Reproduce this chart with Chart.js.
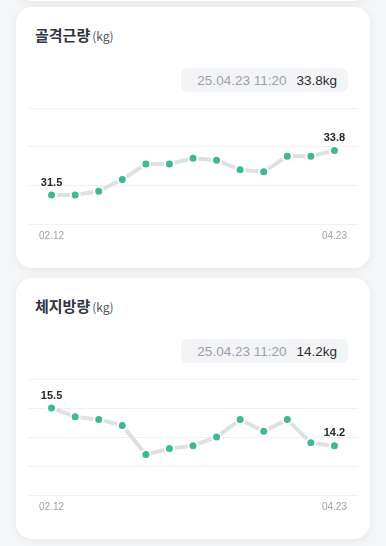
<!DOCTYPE html>
<html>
<head>
<meta charset="utf-8">
<script src="https://cdn.jsdelivr.net/npm/chart.js@4.4.1/dist/chart.umd.min.js"></script>
<style>
    html, body {
        margin: 0;
        padding: 0;
        background: #f5f6f8;
        width: 386px;
        height: 546px;
        overflow: hidden;
        position: relative;
    }
    .card {
        position: absolute;
        left: 16px;
        width: 354px;
        height: 261px;
        background: #ffffff;
        border-radius: 16px;
        box-shadow: 0 2px 8px rgba(30, 40, 60, 0.07);
    }
    .title {
        position: absolute;
        left: 19px;
        top: 17px;
        font-family: "Noto Sans CJK KR", "Noto Sans", sans-serif;
        font-weight: 700;
        font-size: 15px;
        color: #2f3542;
        white-space: nowrap;
    }
    .title .unit {
        font-weight: 400;
        font-size: 12px;
        color: #50555f;
        margin-left: 2px;
    }
    .badge {
        position: absolute;
        right: 22px;
        top: 61px;
        height: 24px;
        padding: 0 11px 0 16px;
        background: #f3f4f6;
        border-radius: 6px;
        display: flex;
        align-items: center;
        gap: 10px;
        font-family: "Liberation Sans", Arial, sans-serif;
        font-size: 13.5px;
    }
    .badge .date { color: #9ba1aa; }
    .badge .value { color: #2a2e36; }
    .chart-box {
        position: absolute;
        left: 12px;
        top: 89px;
        width: 330px;
        height: 156px;
    }
</style>
</head>
<body>
<div class="card" style="top:-260px"></div>

<div class="card" style="top:7px">
    <div class="title">골격근량<span class="unit">(kg)</span></div>
    <div class="badge"><span class="date">25.04.23 11:20</span><span class="value">33.8kg</span></div>
    <div class="chart-box"><canvas id="muscleChart"></canvas></div>
</div>

<div class="card" style="top:278px">
    <div class="title">체지방량<span class="unit">(kg)</span></div>
    <div class="badge"><span class="date">25.04.23 11:20</span><span class="value">14.2kg</span></div>
    <div class="chart-box"><canvas id="fatChart"></canvas></div>
</div>

<script>
const dateLabels = ['02.12', '02.18', '02.24', '03.01', '03.07', '03.13', '03.19',
    '03.25', '03.31', '04.06', '04.12', '04.17', '04.23'];
const muscleValues = [31.5, 31.5, 31.7, 32.3, 33.1, 33.1, 33.4, 33.3, 32.8, 32.7, 33.5, 33.5, 33.8];
const fatValues = [15.5, 15.2, 15.1, 14.9, 13.9, 14.1, 14.2, 14.5, 15.1, 14.7, 15.1, 14.3, 14.2];

const muscleTicks = [30, 32, 34, 36];
const fatTicks = [12.5, 13.5, 14.5, 15.5, 16.5];

// value labels above the first and last point
const endLabels = {
    id: 'endLabels',
    afterDatasetsDraw(chart) {
        const ctx = chart.ctx;
        const meta = chart.getDatasetMeta(0);
        const values = chart.data.datasets[0].data;
        ctx.save();
        ctx.font = 'bold 11px "Liberation Sans", Arial, sans-serif';
        ctx.fillStyle = '#23272e';
        ctx.textAlign = 'center';
        ctx.textBaseline = 'bottom';
        [0, values.length - 1].forEach(i => {
            const pt = meta.data[i];
            ctx.fillText(values[i].y.toFixed(1), pt.x, pt.y - 7);
        });
        ctx.restore();
    }
};

function createTrendChart(canvasId, values, yTicks) {
    const ctx = document.getElementById(canvasId).getContext('2d');
    const last = values.length - 1;

    return new Chart(ctx, {
        type: 'line',
        data: {
            datasets: [{
                data: values.map((v, i) => ({ x: i, y: v })),
                borderColor: '#dfe0e4',
                borderWidth: 4,
                tension: 0,
                pointRadius: 4.5,
                pointBorderWidth: 2,
                pointBackgroundColor: '#40b98b',
                pointBorderColor: '#ffffff',
                pointHoverRadius: 4.5
            }]
        },
        options: {
            responsive: true,
            maintainAspectRatio: false,
            animation: false,
            layout: {
                autoPadding: false,
                padding: { top: 12, bottom: 4 }
            },
            plugins: {
                legend: { display: false },
                tooltip: { enabled: false }
            },
            scales: {
                x: {
                    type: 'linear',
                    min: -1,
                    max: values.length,
                    grid: { display: false, drawTicks: false },
                    border: { display: false },
                    // keep the plot full width, the tick padding should not shrink it
                    afterFit: axis => {
                        axis.paddingLeft = 0;
                        axis.paddingRight = 0;
                    },
                    ticks: {
                        stepSize: 1,
                        autoSkip: false,
                        maxRotation: 0,
                        padding: 6,
                        color: '#9ca2ab',
                        font: { family: '"Liberation Sans", Arial, sans-serif', size: 10 },
                        callback: value => (value === 0 || value === last) ? dateLabels[value] : ''
                    }
                },
                y: {
                    min: yTicks[0],
                    max: yTicks[yTicks.length - 1],
                    afterBuildTicks: axis => {
                        axis.ticks = yTicks.map(v => ({ value: v }));
                    },
                    grid: { color: '#eef0f3', lineWidth: 1, drawTicks: false },
                    border: { display: false },
                    ticks: { display: false }
                }
            }
        },
        plugins: [endLabels]
    });
}

createTrendChart('muscleChart', muscleValues, muscleTicks);
createTrendChart('fatChart', fatValues, fatTicks);
</script>
</body>
</html>
